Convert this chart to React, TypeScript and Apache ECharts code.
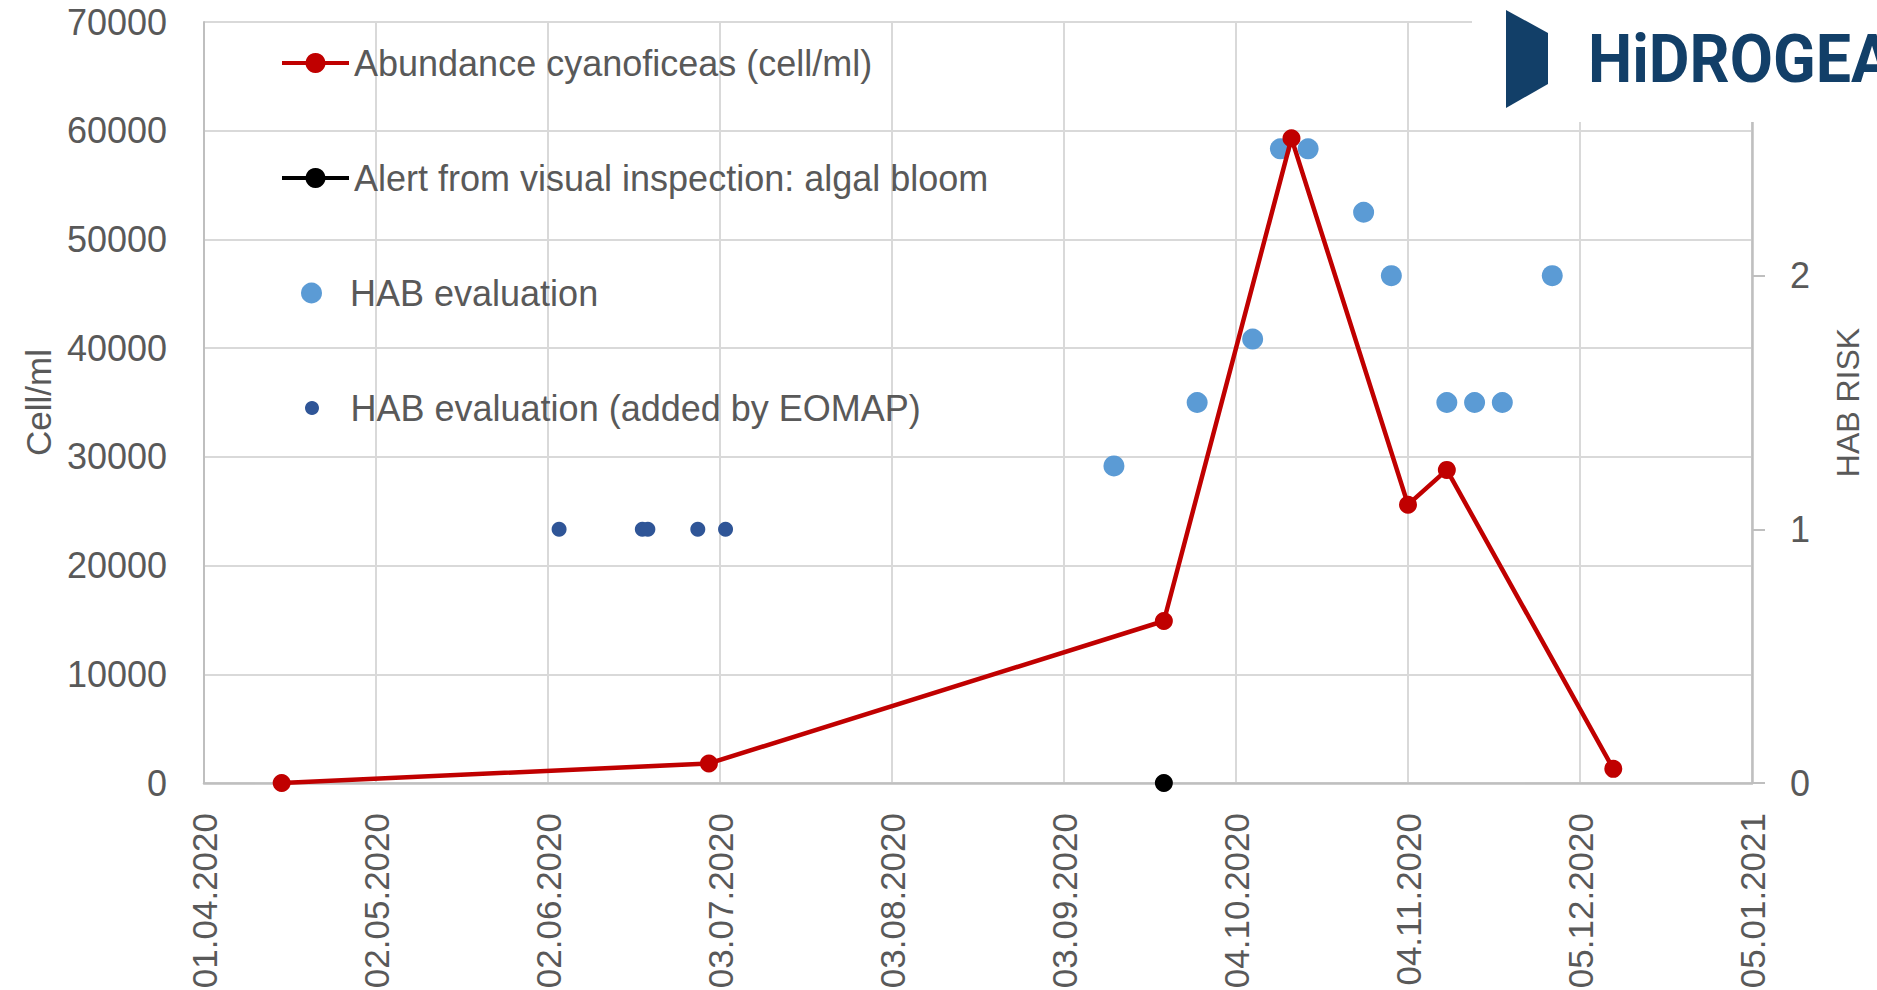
import React, { useEffect, useRef } from 'react';
import * as echarts from 'echarts';

// ---- axis settings (dates as dd.mm.yyyy) ----
const xStartDate = '01.04.2020';
const xEndDate = '05.01.2021';
const xTickDays = 31;

const leftMax = 70000;
const leftInterval = 10000;
const rightMax = 3;
const rightInterval = 1;

// ---- series data ----
const abundanceName = 'Abundance cyanoficeas (cell/ml)';
const abundanceDates = ['15.04.2020', '01.07.2020', '21.09.2020', '14.10.2020', '04.11.2020', '11.11.2020', '11.12.2020'];
const abundanceValues = [0, 1800, 14900, 59300, 25600, 28800, 1300];

const alertName = 'Alert from visual inspection: algal bloom';
const alertDates = ['21.09.2020'];
const alertValues = [0];

const habName = 'HAB evaluation';
const habDates = ['12.09.2020', '27.09.2020', '07.10.2020', '12.10.2020', '17.10.2020', '27.10.2020', '01.11.2020', '11.11.2020', '16.11.2020', '21.11.2020', '30.11.2020'];
const habRisk = [1.25, 1.5, 1.75, 2.5, 2.5, 2.25, 2, 1.5, 1.5, 1.5, 2];

const eomapName = 'HAB evaluation (added by EOMAP)';
const eomapDates = ['04.06.2020', '19.06.2020', '20.06.2020', '29.06.2020', '04.07.2020'];
const eomapRisk = [1, 1, 1, 1, 1];

const leftAxisName = 'Cell/ml';
const rightAxisName = 'HAB RISK';
const logoText = 'HiDROGEA';

const DAY = 86400000;
const parseDate = (s: string) => {
  const [d, m, y] = s.split('.').map(Number);
  return Date.UTC(y, m - 1, d);
};
const dayOffset = (s: string) => Math.round((parseDate(s) - parseDate(xStartDate)) / DAY);
const pad = (n: number) => (n < 10 ? '0' + n : '' + n);
const formatDay = (v: number) => {
  const t = new Date(parseDate(xStartDate) + v * DAY);
  return pad(t.getUTCDate()) + '.' + pad(t.getUTCMonth() + 1) + '.' + t.getUTCFullYear();
};
const pairs = (dates: string[], vals: number[]) => dates.map((d, i) => [dayOffset(d), vals[i]]);

const FONT = '"Liberation Sans", Arial, sans-serif';
const TXT = '#595959';
const GRID = '#D9D9D9';
const AXIS = '#BFBFBF';

export default function App() {
  const ref = useRef<HTMLDivElement>(null);
  useEffect(() => {
    if (!ref.current) return;
    const chart = echarts.init(ref.current, undefined, { renderer: 'svg' });
    const legendText = { color: TXT, fontSize: 36, fontFamily: FONT };
    const option: any = {
      animation: false,
      backgroundColor: '#ffffff',
      textStyle: { fontFamily: FONT },
      grid: { left: 204, right: 125, top: 22, bottom: 207, containLabel: false, outerBoundsMode: 'none' },
      legend: [
        { data: [abundanceName], left: 280, top: 45, padding: 0, orient: 'vertical', itemWidth: 67, itemHeight: 25, selectedMode: false, textStyle: legendText, lineStyle: { width: 4 } },
        { data: [alertName], left: 280, top: 160, padding: 0, orient: 'vertical', itemWidth: 67, itemHeight: 25, selectedMode: false, textStyle: legendText, lineStyle: { width: 4 } },
        { data: [habName], left: 301, top: 275, padding: 0, orient: 'vertical', itemWidth: 67, itemHeight: 21, selectedMode: false, textStyle: legendText, itemStyle: { opacity: 1 } },
        { data: [eomapName], left: 305, top: 390, padding: 0, orient: 'vertical', itemWidth: 67, itemHeight: 14, selectedMode: false, textStyle: legendText, itemStyle: { opacity: 1 } },
      ],
      xAxis: {
        type: 'value',
        min: 0,
        max: dayOffset(xEndDate),
        interval: xTickDays,
        axisLine: { show: true, lineStyle: { color: AXIS, width: 2.5 } },
        axisTick: { show: false },
        splitLine: { show: true, lineStyle: { color: GRID, width: 2 } },
        axisLabel: { rotate: 90, margin: 30, color: TXT, fontSize: 35, fontFamily: FONT, formatter: (v: number) => formatDay(v), showMinLabel: true, showMaxLabel: true },
      },
      yAxis: [
        {
          type: 'value',
          min: 0,
          max: leftMax,
          interval: leftInterval,
          name: leftAxisName,
          nameLocation: 'middle',
          nameRotate: 90,
          nameGap: 148,
          nameTextStyle: { color: TXT, fontSize: 35, fontFamily: FONT },
          axisLine: { show: true, lineStyle: { color: AXIS, width: 2 } },
          axisTick: { show: false },
          splitLine: { show: true, lineStyle: { color: GRID, width: 2 } },
          axisLabel: { margin: 37, color: TXT, fontSize: 36, fontFamily: FONT, formatter: (v: number) => String(v) },
        },
        {
          type: 'value',
          min: 0,
          max: rightMax,
          interval: rightInterval,
          position: 'right',
          name: rightAxisName,
          nameLocation: 'middle',
          nameRotate: 90,
          nameGap: 80,
          nameTextStyle: { color: TXT, fontSize: 32, fontFamily: FONT, verticalAlign: 'top' },
          axisLine: { show: true, lineStyle: { color: AXIS, width: 2.5 } },
          axisTick: { show: true, inside: false, length: 13, lineStyle: { color: AXIS, width: 2 } },
          splitLine: { show: false },
          axisLabel: { margin: 38, color: TXT, fontSize: 36, fontFamily: FONT, formatter: (v: number) => (v === rightMax ? '' : String(v)) },
        },
      ],
      series: [
        {
          name: habName,
          type: 'scatter',
          yAxisIndex: 1,
          data: pairs(habDates, habRisk),
          symbol: 'circle',
          symbolSize: 21,
          itemStyle: { color: '#5B9BD5', opacity: 1 },
          z: 2,
        },
        {
          name: eomapName,
          type: 'scatter',
          yAxisIndex: 1,
          data: pairs(eomapDates, eomapRisk),
          symbol: 'circle',
          symbolSize: 15,
          itemStyle: { color: '#2F5597', opacity: 1 },
          z: 2,
        },
        {
          name: alertName,
          type: 'line',
          yAxisIndex: 0,
          data: pairs(alertDates, alertValues),
          symbol: 'circle',
          symbolSize: 18,
          itemStyle: { color: '#000000' },
          lineStyle: { color: '#000000', width: 4 },
          z: 3,
        },
        {
          name: abundanceName,
          type: 'line',
          yAxisIndex: 0,
          data: pairs(abundanceDates, abundanceValues),
          symbol: 'circle',
          symbolSize: 18,
          itemStyle: { color: '#C00000' },
          lineStyle: { color: '#C00000', width: 4.5 },
          z: 4,
        },
      ],
      graphic: [
        { type: 'rect', left: 1472, top: 0, shape: { width: 405, height: 122 }, style: { fill: '#ffffff' }, z: 100 },
        {
          type: 'polygon',
          shape: { points: [[1506, 10], [1548, 33], [1548, 84], [1506, 108]] },
          style: { fill: '#123F68' },
          z: 101,
        },
        {
          type: 'text',
          x: 1588,
          y: 59,
          style: { text: logoText, fill: '#123F68', font: 'bold 66px Roboto, "Liberation Sans", sans-serif', textVerticalAlign: 'middle', verticalAlign: 'middle' },
          scaleX: 0.95,
          z: 101,
        },
      ],
    };
    chart.setOption(option);
    return () => chart.dispose();
  }, []);
  return <div ref={ref} style={{ position: 'fixed', left: 0, top: 0, width: 1877, height: 990 }} />;
}
